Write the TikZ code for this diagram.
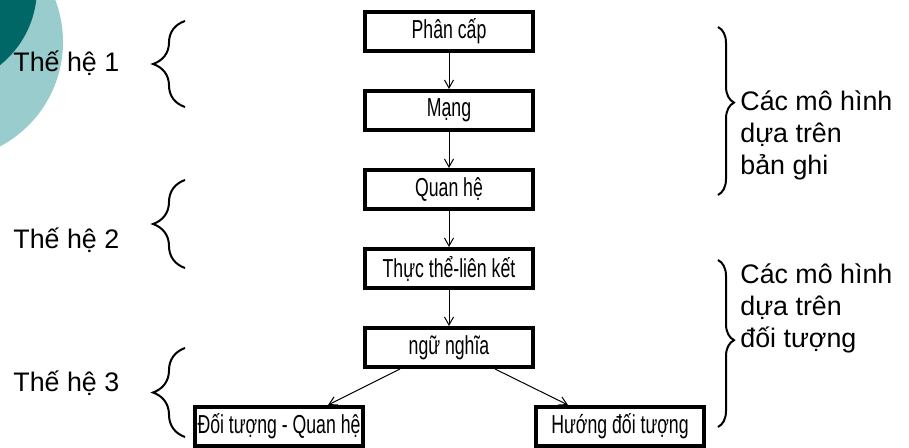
\documentclass[tikz,border=0pt]{standalone}
\usepackage{fontspec}
\setmainfont{Liberation Sans}
\newfontfamily\narrowfont[FakeStretch=0.68]{Liberation Sans}
\usepackage{tikz}
\usetikzlibrary{arrows.meta,positioning,decorations.pathreplacing}
\definecolor{tealpale}{RGB}{153,204,204}
\definecolor{tealdark}{RGB}{0,102,102}
\tikzset{
  model/.style={draw, line width=2pt, minimum width=84pt, minimum height=19.5pt, inner sep=0pt, font=\narrowfont\fontsize{13}{15}\selectfont},
  gen/.style={anchor=west, inner sep=0pt, font=\fontsize{13.4}{16}\selectfont},
  group/.style={anchor=west, align=left, inner sep=0pt, font=\fontsize{13.4}{16}\selectfont},
  arrow/.style={-{Straight Barb[length=4pt,width=4.5pt]}, line width=0.5pt},
  lbrace/.style={decorate, decoration={brace, amplitude=16pt}, line width=1pt},
  rbrace/.style={decorate, decoration={brace, amplitude=8pt}, line width=1pt}
}

\begin{document}
\begin{tikzpicture}[x=0.5pt, y=-0.5pt, node distance=18pt]
  \useasboundingbox (0,0) rectangle (909,448);
  % corner decoration
  \begin{scope}
    \clip (0,0) rectangle (909,448);
    \fill[tealpale] (-55,42) circle (118);
    \fill[tealdark] (-62,-12) circle (99);
  \end{scope}

  \node[model] (hier) at (449,31.5) {Phân cấp};
  \node[model, below=of hier] (net) {Mạng};
  \node[model, below=of net] (rel) {Quan hệ};
  \node[model, below=of rel] (er) {Thực thể-liên kết};
  \node[model, below=of er] (sem) {ngữ nghĩa};
  \node[model, below=of sem, xshift=-85pt] (objrel) {Đối tượng - Quan hệ};
  \node[model, below=of sem, xshift=85.5pt] (oo) {Hướng đối tượng};

  \draw[arrow] (hier) -- (net);
  \draw[arrow] (net) -- (rel);
  \draw[arrow] (rel) -- (er);
  \draw[arrow] (er) -- (sem);
  \draw[arrow] ([xshift=-24.5pt]sem.south) -- ([xshift=24.5pt]objrel.north);
  \draw[arrow] ([xshift=23pt]sem.south) -- ([xshift=-26pt]oo.north);

  % generations
  \node[gen] (gen1) at (13,63) {Thế hệ 1};
  \node[gen] (gen2) at (13,240) {Thế hệ 2};
  \node[gen] (gen3) at (13,383) {Thế hệ 3};
  \draw[lbrace] (185,107) -- (185,21);
  \draw[lbrace] (185,268) -- (185,180);
  \draw[lbrace] (185,437) -- (185,348);

  % groups of models
  \node[group] (rec) at (740,135) {Các mô hình\\dựa trên\\bản ghi};
  \node[group] (obj) at (740,308) {Các mô hình\\dựa trên\\đối tượng};
  \draw[rbrace, decoration={aspect=0.45}] (718,27) -- (718,195);
  \draw[rbrace, decoration={aspect=0.48}] (718,260) -- (718,427);
\end{tikzpicture}
\end{document}
